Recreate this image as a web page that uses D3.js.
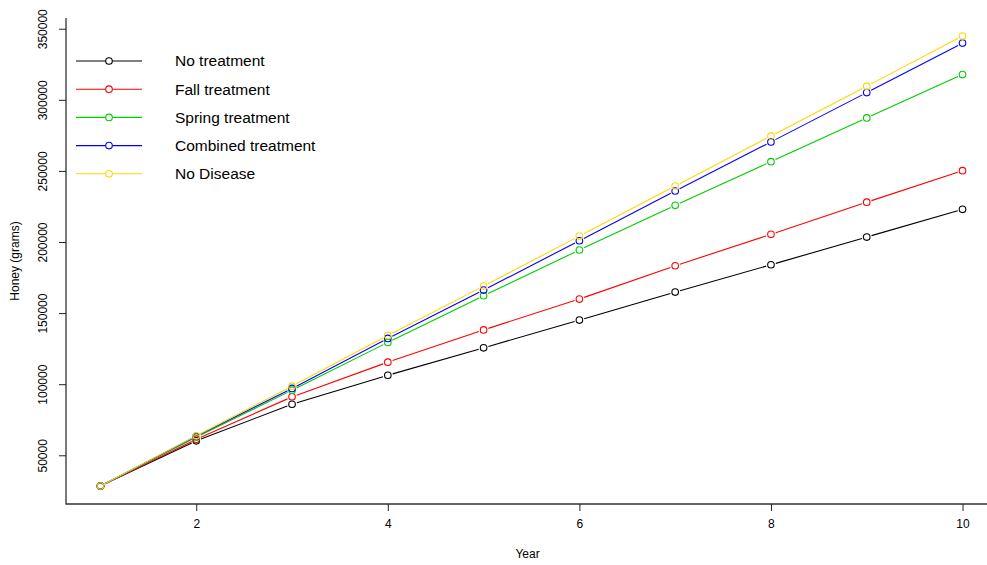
<!DOCTYPE html>
<meta charset="utf-8">
<style>
  body { margin: 0; background: #fff; }
  text { font-family: "Liberation Sans", Arial, sans-serif; fill: #000; }
</style>
<body>
<script src="https://d3js.org/d3.v7.min.js"></script>
<script>
// years on the x axis
var years = [1, 2, 3, 4, 5, 6, 7, 8, 9, 10];

// honey (grams) per scenario
var noTreatment       = [28400, 60200, 85900, 106300, 125600, 145100, 164800, 184000, 203500, 223000];
var fallTreatment     = [28400, 61300, 91100, 115500, 138200, 159900, 183300, 205400, 228000, 250200];
var springTreatment   = [28400, 62700, 95800, 129400, 162200, 194400, 225800, 256500, 287300, 317800];
var combinedTreatment = [28400, 63400, 97000, 132200, 166200, 200900, 235900, 270400, 305100, 339900];
var noDisease         = [28400, 63700, 98600, 134300, 169000, 204200, 239400, 274600, 309600, 344900];

var seriesNames  = ["No treatment", "Fall treatment", "Spring treatment", "Combined treatment", "No Disease"];
var seriesColors = ["#000000", "#ff0000", "#00cd00", "#0000ff", "#ffd700"];
var seriesValues = [noTreatment, fallTreatment, springTreatment, combinedTreatment, noDisease];

var xTicks = [2, 4, 6, 8, 10];
var yTicks = [50000, 100000, 150000, 200000, 250000, 300000, 350000];

var width = 987, height = 565;
var plot = {left: 66, right: 997, top: 18, bottom: 504};

var svg = d3.select("body").append("svg")
  .attr("width", width)
  .attr("height", height);

// R style 4% padding on both axes
var xMin = d3.min(years), xMax = d3.max(years);
var xPad = (xMax - xMin) * 0.04;
var x = d3.scaleLinear().domain([xMin - xPad, xMax + xPad]).range([plot.left, plot.right]);

var allVals = d3.merge(seriesValues);
var yMin = d3.min(allVals), yMax = d3.max(allVals);
var yPad = (yMax - yMin) * 0.04;
var y = d3.scaleLinear().domain([yMin - yPad, yMax + yPad]).range([plot.bottom, plot.top]);

// L-shaped box
svg.append("path")
  .attr("d", "M" + plot.left + "," + plot.top + "V" + plot.bottom + "H" + plot.right)
  .style("fill", "none")
  .style("stroke", "#333")
  .style("stroke-width", 1.3);

// x axis
var xAxis = svg.append("g")
  .attr("transform", "translate(0," + plot.bottom + ")")
  .call(d3.axisBottom(x).tickValues(xTicks).tickSize(7).tickPadding(8));
xAxis.select(".domain").remove();
xAxis.selectAll("line").style("stroke", "#222");
xAxis.selectAll("text").style("font-size", "12px").style("font-family", "Liberation Sans, Arial, sans-serif").attr("fill", "#000");

// y axis with rotated labels
var yAxis = svg.append("g")
  .attr("transform", "translate(" + plot.left + ",0)")
  .call(d3.axisLeft(y).tickValues(yTicks).tickSize(7).tickFormat(d3.format("d")));
yAxis.select(".domain").remove();
yAxis.selectAll("line").style("stroke", "#222");
yAxis.selectAll("text")
  .style("font-size", "12px")
  .style("font-family", "Liberation Sans, Arial, sans-serif")
  .attr("fill", "#000")
  .attr("x", null).attr("dy", null)
  .attr("text-anchor", "middle")
  .attr("transform", "translate(-19,0) rotate(-90)");

// axis titles
svg.append("text")
  .attr("x", (plot.left + plot.right) / 2 - 4)
  .attr("y", 558)
  .attr("text-anchor", "middle")
  .style("font-size", "12px")
  .text("Year");

svg.append("text")
  .attr("transform", "translate(19," + ((plot.top + plot.bottom) / 2) + ") rotate(-90)")
  .attr("text-anchor", "middle")
  .style("font-size", "12px")
  .text("Honey (grams)");

// lines with gaps around points (type = "b")
var gap = 5;
seriesValues.forEach(function(vals, i) {
  var pts = years.map(function(yr, j) { return [x(yr), y(vals[j])]; });
  var g = svg.append("g");
  for (var j = 0; j < pts.length - 1; j++) {
    var p0 = pts[j], p1 = pts[j + 1];
    var dx = p1[0] - p0[0], dy = p1[1] - p0[1];
    var len = Math.sqrt(dx * dx + dy * dy);
    if (len <= 2 * gap) continue;
    var ux = dx / len, uy = dy / len;
    g.append("line")
      .attr("x1", p0[0] + ux * gap).attr("y1", p0[1] + uy * gap)
      .attr("x2", p1[0] - ux * gap).attr("y2", p1[1] - uy * gap)
      .style("stroke", seriesColors[i])
      .style("stroke-width", 1.1);
  }
  g.selectAll("circle")
    .data(pts)
    .enter().append("circle")
    .attr("cx", function(d) { return d[0]; })
    .attr("cy", function(d) { return d[1]; })
    .attr("r", 3.3)
    .style("fill", "none")
    .style("stroke", seriesColors[i])
    .style("stroke-width", 1.1);
});

// legend
var legend = svg.append("g");
seriesNames.forEach(function(name, i) {
  var ly = 61 + i * 28.2;
  legend.append("line")
    .attr("x1", 76).attr("x2", 142)
    .attr("y1", ly).attr("y2", ly)
    .style("stroke", seriesColors[i])
    .style("stroke-width", 1.1);
  legend.append("circle")
    .attr("cx", 109).attr("cy", ly).attr("r", 3.3)
    .style("fill", "#fff")
    .style("stroke", seriesColors[i])
    .style("stroke-width", 1.1);
  legend.append("text")
    .attr("x", 175).attr("y", ly)
    .attr("dy", "0.35em")
    .style("font-size", "15.5px")
    .text(name);
});
</script>
</body>
